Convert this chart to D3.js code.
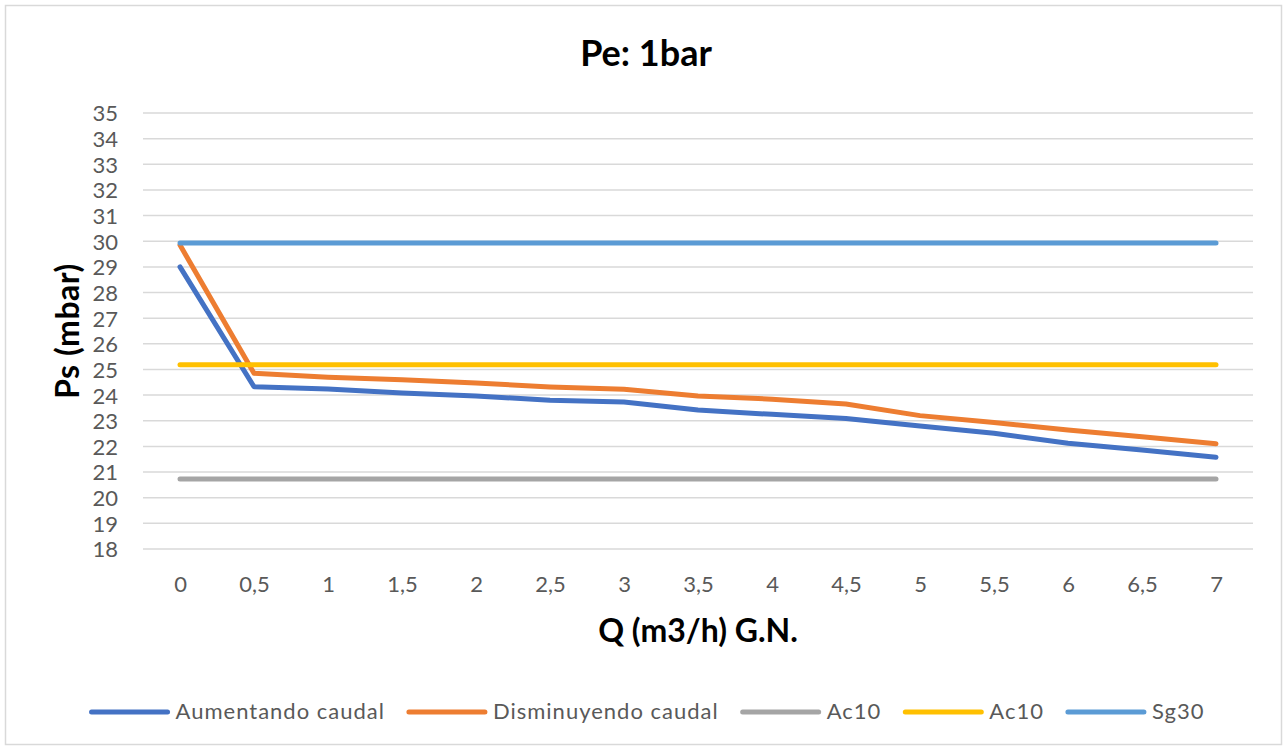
<!DOCTYPE html>
<html>
<head>
<meta charset="utf-8">
<script src="https://cdn.jsdelivr.net/npm/d3@7"></script>
<style>
  body { margin: 0; background: #fff; }
  svg { display: block; font-family: Lato, "Open Sans", sans-serif; }
</style>
</head>
<body>
<svg id="chart" width="1284" height="749"></svg>
<script>
// categorias del eje X (Q m3/h)
var categories = ['0', '0,5', '1', '1,5', '2', '2,5', '3', '3,5', '4', '4,5', '5', '5,5', '6', '6,5', '7'];

// Ps (mbar) por serie
var aumentando   = [29.0, 24.33, 24.24, 24.08, 23.97, 23.8, 23.73, 23.42, 23.25, 23.09, 22.8, 22.51, 22.12, 21.86, 21.58];
var disminuyendo = [29.85, 24.85, 24.7, 24.6, 24.47, 24.32, 24.23, 23.97, 23.84, 23.65, 23.2, 22.93, 22.64, 22.38, 22.1];
var ac10Gris     = [20.73, 20.73, 20.73, 20.73, 20.73, 20.73, 20.73, 20.73, 20.73, 20.73, 20.73, 20.73, 20.73, 20.73, 20.73];
var ac10Amarillo = [25.18, 25.18, 25.18, 25.18, 25.18, 25.18, 25.18, 25.18, 25.18, 25.18, 25.18, 25.18, 25.18, 25.18, 25.18];
var sg30         = [29.93, 29.93, 29.93, 29.93, 29.93, 29.93, 29.93, 29.93, 29.93, 29.93, 29.93, 29.93, 29.93, 29.93, 29.93];

var yTicks = d3.range(18, 36);

var series = [
	{ name: 'Aumentando caudal', values: aumentando, color: '#4472C4' },
	{ name: 'Disminuyendo caudal', values: disminuyendo, color: '#ED7D31' },
	{ name: 'Ac10', values: ac10Gris, color: '#A5A5A5' },
	{ name: 'Ac10', values: ac10Amarillo, color: '#FFC000' },
	{ name: 'Sg30', values: sg30, color: '#5B9BD5' }
];

var svg = d3.select('#chart');
var plot = { left: 143, right: 1253, top: 113, bottom: 549 };

svg.append('rect')
	.attr('x', 5.5).attr('y', 5.5)
	.attr('width', 1276).attr('height', 739)
	.attr('fill', '#fff')
	.attr('stroke', '#d9d9d9')
	.attr('stroke-width', 1.5);

var x = d3.scalePoint()
	.domain(categories)
	.range([plot.left, plot.right])
	.padding(0.5);

var y = d3.scaleLinear()
	.domain([18, 35])
	.range([plot.bottom, plot.top]);

// rejilla
svg.append('g')
	.selectAll('line')
	.data(yTicks)
	.enter().append('line')
	.attr('x1', plot.left).attr('x2', plot.right)
	.attr('y1', function(d) { return y(d); })
	.attr('y2', function(d) { return y(d); })
	.attr('stroke', '#d9d9d9')
	.attr('stroke-width', 1.5);

// eje Y
var yAxis = svg.append('g')
	.attr('transform', 'translate(' + (plot.left - 25) + ',0)')
	.call(d3.axisLeft(y).tickValues(yTicks).tickSize(0).tickPadding(0));
yAxis.select('.domain').remove();
yAxis.selectAll('text')
	.attr('fill', '#595959')
	.style('font-size', '22px')
	.style('font-family', 'Lato, sans-serif')
	.attr('dy', '0.36em');

// eje X
var xAxis = svg.append('g')
	.attr('transform', 'translate(0,' + plot.bottom + ')')
	.call(d3.axisBottom(x).tickSize(0).tickPadding(0));
xAxis.select('.domain').remove();
xAxis.selectAll('text')
	.attr('fill', '#595959')
	.style('font-size', '22px')
	.style('font-family', 'Lato, sans-serif')
	.attr('dy', null)
	.attr('y', 43);

// lineas
var line = d3.line()
	.x(function(d, i) { return x(categories[i]); })
	.y(function(d) { return y(d); });

svg.append('g')
	.selectAll('path')
	.data(series)
	.enter().append('path')
	.attr('d', function(d) { return line(d.values); })
	.attr('fill', 'none')
	.attr('stroke', function(d) { return d.color; })
	.attr('stroke-width', 5)
	.attr('stroke-linecap', 'round')
	.attr('stroke-linejoin', 'round');

// titulos
svg.append('text')
	.attr('x', 646).attr('y', 66)
	.attr('text-anchor', 'middle')
	.style('font-size', '36px')
	.style('font-weight', 'bold')
	.text('Pe: 1bar');

svg.append('text')
	.attr('x', (plot.left + plot.right) / 2).attr('y', 642)
	.attr('text-anchor', 'middle')
	.style('font-size', '32px')
	.style('font-weight', 'bold')
	.text('Q (m3/h) G.N.');

svg.append('text')
	.attr('transform', 'translate(79,' + ((plot.top + plot.bottom) / 2) + ')rotate(-90)')
	.attr('text-anchor', 'middle')
	.style('font-size', '32px')
	.style('font-weight', 'bold')
	.style('letter-spacing', '0.5px')
	.text('Ps (mbar)');

// leyenda
var legend = svg.append('g');
var lx = 0;
series.forEach(function(s) {
	var item = legend.append('g').attr('transform', 'translate(' + lx + ',0)');
	item.append('line')
		.attr('x1', 0).attr('x2', 76)
		.attr('y1', 0).attr('y2', 0)
		.attr('stroke', s.color)
		.attr('stroke-width', 5)
		.attr('stroke-linecap', 'round');
	var t = item.append('text')
		.attr('x', 84).attr('y', 7)
		.attr('fill', '#595959')
		.style('font-size', '22px')
		.style('letter-spacing', '1px')
		.text(s.name);
	lx += 84 + t.node().getComputedTextLength() + 24;
});
lx -= 24;
legend.attr('transform', 'translate(' + (648 - lx / 2) + ',712)');
</script>
</body>
</html>
